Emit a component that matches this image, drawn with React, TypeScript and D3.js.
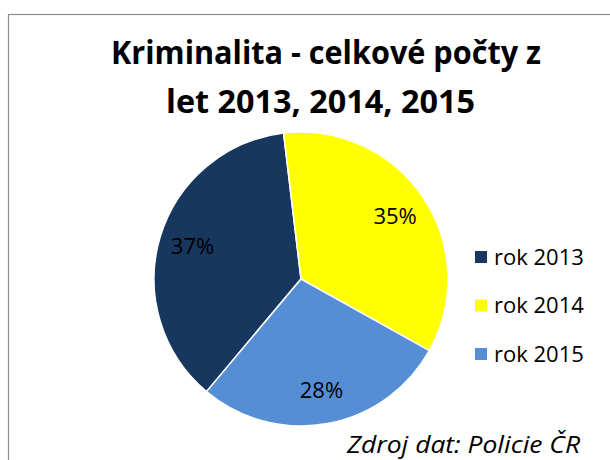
import * as d3 from "d3";

const categories = ["rok 2013", "rok 2014", "rok 2015"];
const shares = [37, 35, 28];
const colors = ["#17375E", "#FFFF00", "#558ED5"];
const titleLines = ["Kriminalita - celkové počty z", "let 2013, 2014, 2015"];
const source = "Zdroj dat: Policie ČR";

const width = 610;
const height = 460;
const cx = 301;
const cy = 279;
const radius = 147;
const font = "'Open Sans', 'Noto Sans', sans-serif";

// first slice (2013) begins low on the left, as in the Excel original
const startDeg = 220;
const pieGen = d3
  .pie<number>()
  .sort(null)
  .value((d) => d)
  .startAngle((startDeg * Math.PI) / 180)
  .endAngle(((startDeg + 360) * Math.PI) / 180);

const sliceArc = d3.arc<d3.PieArcDatum<number>>().innerRadius(0).outerRadius(radius);
const labelArc = d3
  .arc<d3.PieArcDatum<number>>()
  .innerRadius(radius * 0.77)
  .outerRadius(radius * 0.77);

const legendY = d3.scalePoint<string>().domain(categories).range([257, 354]);

const App = () => {
  const arcs = pieGen(shares);
  return (
    <div style={{ position: "absolute", left: 0, top: 0 }}>
      <svg width={width} height={height} style={{ display: "block" }}>
        <rect x={0} y={0} width={width} height={height} fill="#fff" />
        <rect x={8.5} y={14.5} width={640} height={480} fill="#fff" stroke="#8c8c8c" strokeWidth={1.2} />

        {titleLines.map((t, i) => (
          <text
            key={t}
            x={i === 0 ? 326 : 320.5}
            y={64 + i * 49}
            textAnchor="middle"
            fontFamily={font}
            fontWeight="bold"
            fontSize={33}
            textLength={i === 0 ? 430 : 309}
            lengthAdjust="spacingAndGlyphs"
          >
            {t}
          </text>
        ))}

        <g transform={`translate(${cx},${cy})`}>
          {arcs.map((a, i) => (
            <path key={categories[i]} d={sliceArc(a) || ""} fill={colors[i]} stroke="#fff" strokeWidth={1.5} />
          ))}
          {arcs.map((a, i) => {
            const [x, y] = labelArc.centroid(a);
            return (
              <text
                key={"l" + i}
                x={x}
                y={y}
                dy="0.35em"
                textAnchor="middle"
                fontFamily={font}
                fontSize={22}
                fill="#000"
              >
                {shares[i]}%
              </text>
            );
          })}
        </g>

        {categories.map((c, i) => (
          <g key={c} transform={`translate(475,${legendY(c)})`}>
            <rect x={0} y={-6} width={12} height={12} fill={colors[i]} />
            <text x={19} y={0} dy="0.35em" fontFamily={font} fontSize={22} fill="#000">
              {c}
            </text>
          </g>
        ))}

        <text
          x={580}
          y={453}
          textAnchor="end"
          fontFamily={font}
          fontStyle="italic"
          fontSize={24}
          textLength={233}
          lengthAdjust="spacingAndGlyphs"
          fill="#000"
        >
          {source}
        </text>
      </svg>
    </div>
  );
};

export default App;
